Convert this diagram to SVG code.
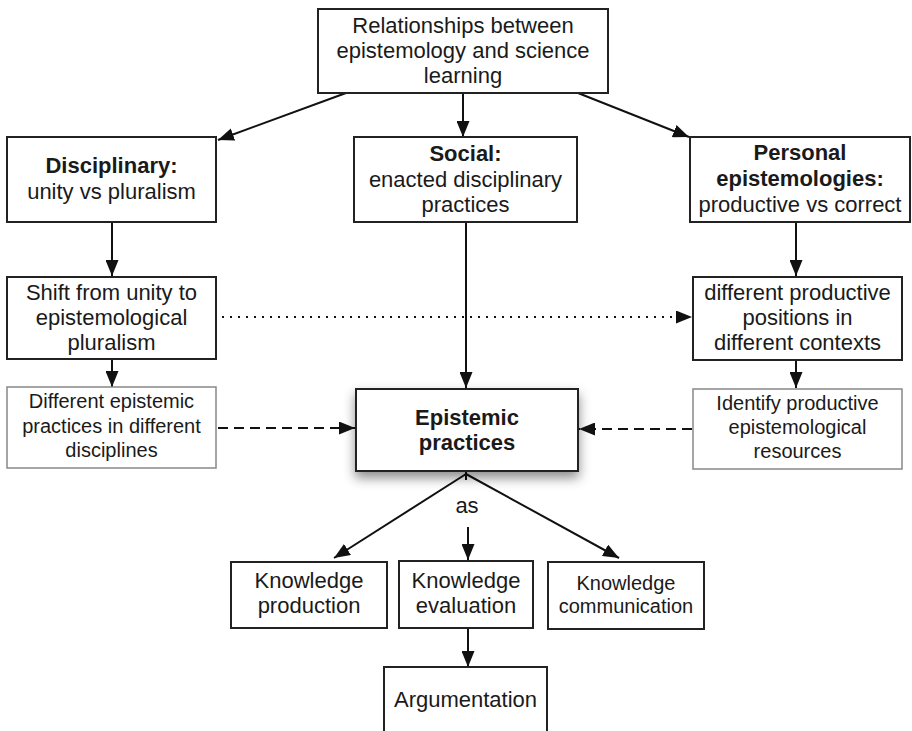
<svg xmlns="http://www.w3.org/2000/svg" width="912" height="731" viewBox="0 0 912 731">
<style>
  text { font-family: "Liberation Sans", Arial, sans-serif; font-size: 22px; fill: #1a1a1a; text-anchor: middle; }
  .b { font-weight: bold; }
  .s { font-size: 20px; }
  .box { fill: #fff; stroke: #222; stroke-width: 2; }
  .lbox { fill: #fff; stroke: #888; stroke-width: 1.5; }
  .ln { fill: none; stroke: #111; stroke-width: 2; }
  .arr { marker-end: url(#ah); }
  .dash { stroke-dasharray: 10 6; }
  .dot { stroke-dasharray: 2 6; }
</style>
<defs>
  <marker id="ah" markerUnits="userSpaceOnUse" markerWidth="17" markerHeight="13" refX="16" refY="6.5" orient="auto">
    <path d="M0,0 L16,6.5 L0,13 z" fill="#111"/>
  </marker>
  <filter id="sh" x="-20%" y="-30%" width="140%" height="170%">
    <feDropShadow dx="0" dy="6" stdDeviation="6" flood-color="#000" flood-opacity="0.45"/>
  </filter>
</defs>
<rect width="912" height="731" fill="#fff"/>

<g id="connectors">
  <line class="ln arr" x1="346" y1="93" x2="218" y2="140"/>
  <line class="ln arr" x1="463" y1="93" x2="463" y2="137"/>
  <line class="ln arr" x1="578" y1="93" x2="689" y2="137"/>
  <line class="ln arr" x1="112" y1="222" x2="112" y2="276"/>
  <line class="ln arr" x1="466" y1="222" x2="466" y2="388"/>
  <line class="ln arr" x1="796" y1="222" x2="796" y2="276"/>
  <line class="ln arr" x1="112" y1="359" x2="112" y2="387"/>
  <line class="ln arr" x1="796" y1="360" x2="796" y2="388"/>
  <line class="ln arr dot" x1="222" y1="317" x2="692" y2="317"/>
  <line class="ln arr dash" x1="218" y1="428" x2="355" y2="428"/>
  <line class="ln arr dash" x1="692" y1="429" x2="579" y2="429"/>
  <line class="ln" x1="466" y1="471" x2="466" y2="480"/>
  <line class="ln arr" x1="466" y1="474" x2="334" y2="558"/>
  <line class="ln arr" x1="466" y1="474" x2="619" y2="558"/>
  <line class="ln arr" x1="468" y1="527" x2="468" y2="560"/>
  <line class="ln arr" x1="468" y1="628" x2="468" y2="667"/>
</g>

<g id="top">
  <rect class="box" x="318" y="9" width="290" height="84"/>
  <text x="463" y="33">Relationships between</text>
  <text x="463" y="58">epistemology and science</text>
  <text x="463" y="83">learning</text>
</g>

<g id="disciplinary">
  <rect class="box" x="7" y="137" width="209" height="85"/>
  <text class="b" x="111.5" y="173">Disciplinary:</text>
  <text x="111.5" y="199">unity vs pluralism</text>
</g>

<g id="social">
  <rect class="box" x="354" y="137" width="223" height="85"/>
  <text class="b" x="465.5" y="161">Social:</text>
  <text x="465.5" y="187">enacted disciplinary</text>
  <text x="465.5" y="212">practices</text>
</g>

<g id="personal">
  <rect class="box" x="690" y="137" width="220" height="85"/>
  <text class="b" x="800" y="160">Personal</text>
  <text class="b" x="800" y="186">epistemologies:</text>
  <text x="800" y="212">productive vs correct</text>
</g>

<g id="shift">
  <rect class="box" x="7" y="277" width="209" height="82"/>
  <text x="111.5" y="300">Shift from unity to</text>
  <text x="111.5" y="325">epistemological</text>
  <text x="111.5" y="350">pluralism</text>
</g>

<g id="different-practices">
  <rect class="lbox" x="7" y="387" width="209" height="81"/>
  <text class="s" x="111.5" y="408">Different epistemic</text>
  <text class="s" x="111.5" y="433">practices in different</text>
  <text class="s" x="111.5" y="457">disciplines</text>
</g>

<g id="productive-positions">
  <rect class="box" x="693" y="277" width="209" height="83"/>
  <text x="797.5" y="300">different productive</text>
  <text x="797.5" y="325">positions in</text>
  <text x="797.5" y="350">different contexts</text>
</g>

<g id="identify">
  <rect class="lbox" x="693" y="389" width="209" height="80"/>
  <text class="s" x="797.5" y="410">Identify productive</text>
  <text class="s" x="797.5" y="434">epistemological</text>
  <text class="s" x="797.5" y="458">resources</text>
</g>

<g id="epistemic">
  <rect class="box" x="356" y="389" width="222" height="82" filter="url(#sh)"/>
  <text class="b" x="467" y="425">Epistemic</text>
  <text class="b" x="467" y="450">practices</text>
</g>

<g id="as-label">
  <text x="467" y="513">as</text>
</g>

<g id="production">
  <rect class="box" x="231" y="562" width="156" height="66"/>
  <text x="309" y="588">Knowledge</text>
  <text x="309" y="613">production</text>
</g>

<g id="evaluation">
  <rect class="box" x="399" y="561" width="134" height="67"/>
  <text x="466" y="588">Knowledge</text>
  <text x="466" y="613">evaluation</text>
</g>

<g id="communication">
  <rect class="box" x="548" y="562" width="156" height="67"/>
  <text class="s" x="626" y="590">Knowledge</text>
  <text class="s" x="626" y="613">communication</text>
</g>

<g id="argumentation">
  <rect class="box" x="384" y="667" width="163" height="80"/>
  <text x="465.5" y="707">Argumentation</text>
</g>
</svg>
